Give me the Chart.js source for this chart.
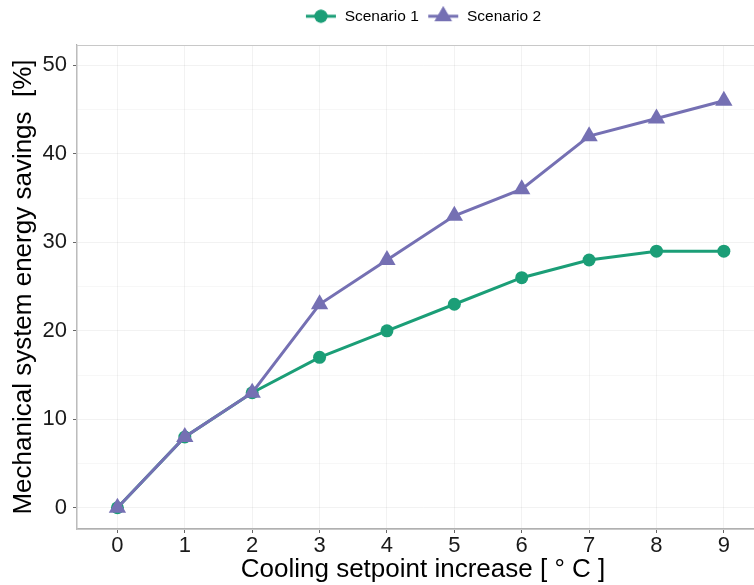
<!DOCTYPE html>
<html>
<head>
<meta charset="utf-8">
<script src="https://cdn.jsdelivr.net/npm/chart.js@4/dist/chart.umd.min.js"></script>
<style>
  html, body { margin: 0; padding: 0; background: #fff; }
  #crop { width: 754px; height: 585px; overflow: hidden; position: relative; }
</style>
</head>
<body>
<div id="crop">
  <canvas id="chart" width="846" height="585"></canvas>
</div>
<script>
// cooling setpoint increase [°C]
const setpoints = [0, 1, 2, 3, 4, 5, 6, 7, 8, 9]
const scenario1 = [0, 8, 13, 17, 20, 23, 26, 28, 29, 29]
const scenario2 = [0, 8, 13, 23, 28, 33, 36, 42, 44, 46]
const seriesNames = ['Scenario 1', 'Scenario 2']

const GREEN = '#1b9e77'
const PURPLE = '#7570b3'
const FONT = "'Liberation Sans', Arial, sans-serif"

const toPoints = (ys) => ys.map((y, i) => ({x: setpoints[i], y: y}))

// small line+marker glyph for the legend (like ggplot keys)
function legendKey(color, style, radius) {
    const c = document.createElement('canvas')
    c.width = 32
    c.height = 22
    const ctx = c.getContext('2d')
    ctx.strokeStyle = color
    ctx.lineWidth = 3
    ctx.beginPath()
    ctx.moveTo(1, 11)
    ctx.lineTo(31, 11)
    ctx.stroke()
    ctx.fillStyle = color
    Chart.helpers.drawPoint(ctx, {pointStyle: style, radius: radius, borderWidth: 0}, 16, 11)
    ctx.fill()
    return c
}

// gray panel frame (only top edge is not covered by the axes)
const panelBorder = {
    id: 'panelBorder',
    beforeDatasetsDraw(chart) {
        const {ctx, chartArea} = chart
        ctx.save()
        ctx.strokeStyle = '#c8c8c8'
        ctx.lineWidth = 1
        ctx.strokeRect(chartArea.left, chartArea.top + 0.5, chartArea.right - chartArea.left, chartArea.bottom - chartArea.top)
        ctx.restore()
    }
}

const keys = [legendKey(GREEN, 'circle', 6.5), legendKey(PURPLE, 'triangle', 10)]

new Chart(document.getElementById('chart'), {
    type: 'line',
    data: {
        datasets: [
            {
                label: seriesNames[0],
                data: toPoints(scenario1),
                borderColor: GREEN,
                backgroundColor: GREEN,
                borderWidth: 3,
                pointStyle: 'circle',
                pointRadius: 6.5,
                pointBorderWidth: 0,
                order: 2
            },
            {
                label: seriesNames[1],
                data: toPoints(scenario2),
                borderColor: PURPLE,
                backgroundColor: PURPLE,
                borderWidth: 3,
                pointStyle: 'triangle',
                pointRadius: 10,
                pointBorderWidth: 0,
                order: 1
            }
        ]
    },
    options: {
        responsive: false,
        animation: false,
        layout: {padding: {top: 0, right: 77, left: 0, bottom: 0}},
        plugins: {
            tooltip: {enabled: false},
            // empty subtitle used as a gap between legend and panel
            subtitle: {
                display: true,
                text: '',
                weight: 500,
                font: {size: 1, lineHeight: 1},
                padding: {top: 0, bottom: 10}
            },
            legend: {
                position: 'top',
                fullSize: false,
                labels: {
                    font: {family: FONT, size: 15.5},
                    color: '#1a1a1a',
                    usePointStyle: true,
                    pointStyleWidth: 32,
                    padding: 8.5,
                    sort: (a, b) => a.datasetIndex - b.datasetIndex,
                    generateLabels(chart) {
                        return chart.data.datasets.map((ds, i) => ({
                            text: ds.label,
                            datasetIndex: i,
                            pointStyle: keys[i],
                            fillStyle: ds.backgroundColor,
                            strokeStyle: ds.borderColor,
                            lineWidth: 0,
                            hidden: false
                        }))
                    }
                }
            }
        },
        scales: {
            x: {
                type: 'linear',
                min: -0.6,
                max: 9.67,
                afterFit(scale) { scale.height = 56 },
                border: {color: '#b0b0b0', width: 1.2},
                grid: {
                    color: 'rgba(0,0,0,0.05)',
                    tickColor: '#666',
                    tickLength: 4
                },
                ticks: {
                    stepSize: 1,
                    includeBounds: false,
                    autoSkip: false,
                    maxRotation: 0,
                    padding: 0,
                    color: '#1a1a1a',
                    font: {family: FONT, size: 22}
                },
                title: {
                    display: true,
                    text: 'Cooling setpoint increase [ \u00b0 C ]',
                    color: '#000',
                    font: {family: FONT, size: 26},
                    padding: {top: 0, bottom: 0}
                }
            },
            y: {
                type: 'linear',
                min: -2.4,
                max: 52.3,
                afterFit(scale) { scale.width = 77 },
                border: {color: '#b0b0b0', width: 1.2},
                grid: {
                    color: (c) => (c.tick && c.tick.value % 10 === 0) ? 'rgba(0,0,0,0.05)' : 'rgba(0,0,0,0.03)',
                    tickColor: (c) => (c.tick && c.tick.value % 10 === 0) ? '#666' : 'rgba(0,0,0,0)',
                    tickLength: 4
                },
                ticks: {
                    stepSize: 5,
                    includeBounds: false,
                    padding: 6,
                    color: '#1a1a1a',
                    font: {family: FONT, size: 22},
                    callback: (v) => v % 10 === 0 ? v : ''
                },
                title: {
                    display: true,
                    text: 'Mechanical system energy savings  [%]',
                    color: '#000',
                    font: {family: FONT, size: 26},
                    padding: {top: 8.5, bottom: 0}
                }
            }
        }
    },
    plugins: [panelBorder]
})
</script>
</body>
</html>
